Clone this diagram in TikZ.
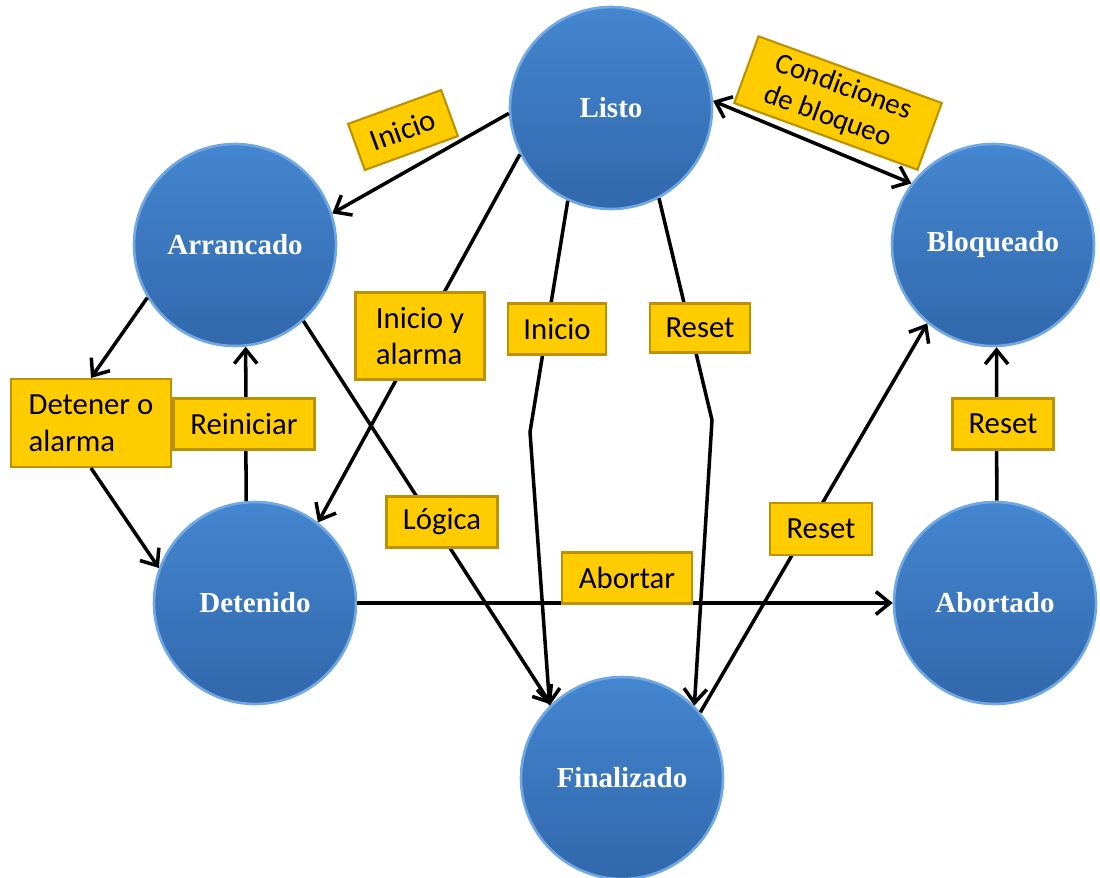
\documentclass[tikz,border=0pt]{standalone}
\usepackage{fontspec}
\usepackage{tikz}
\usetikzlibrary{arrows.meta, calc}
\newfontfamily\boxfont{Carlito}
\newfontfamily\statefont{Liberation Serif}
\definecolor{statetop}{RGB}{68,134,208}
\definecolor{statebot}{RGB}{50,104,172}
\definecolor{staterim}{RGB}{112,168,228}
\definecolor{boxfill}{RGB}{255,204,0}
\definecolor{boxrim}{RGB}{190,145,0}
\tikzset{
  barb/.tip = {Straight Barb[length = 8pt, width = 13pt]},
  state/.style = {circle, minimum size = 4.04cm, inner sep = 0, top color = statetop, bottom color = statebot, draw = staterim, line width = 1.5pt, text = white, font = \statefont\bfseries\fontsize{16.5}{19}\selectfont},
  tag/.style = {rectangle, fill = boxfill, draw = boxrim, line width = 1.2pt, inner sep = 0, align = left, font = \boxfont\fontsize{17.5}{21}\selectfont},
  link/.style = {line width = 2pt, -barb}
}
\begin{document}
\begin{tikzpicture}[x = 0.02cm, y = -0.02cm]
\useasboundingbox (0, 0) rectangle (1100, 877);
\node[state] (listo) at (611, 108) {Listo};
\node[state] (arr) at (235, 245) {Arrancado};
\node[state] (bloq) at (993, 245) {Bloqueado};
\node[state] (det) at (255, 603) {Detenido};
\node[state] (abor) at (995, 603) {Abortado};
\node[state] (fin) at (622, 778) {Finalizado};
\node[tag, minimum width = 3.2cm, minimum height = 1.76cm] (detener) at (91, 423) {Detener o\\alarma};
\coordinate (k1) at (530, 432);
\coordinate (k2) at (712, 420);
\draw[link] (listo.183) -- (arr.18);
\draw[link, barb-barb] (listo.4) -- (bloq.143);
\draw[link] (listo.207) -- (det.52);
\draw[link] (listo.245) -- (k1) -- (fin.135);
\draw[link] (listo.298) -- (k2) -- (fin.45);
\draw[link] (arr.-48) -- (fin.134);
\draw[link] (arr.211) -- (detener.north);
\draw[link] (detener.south) -- (det.160);
\draw[link] (det.95) -- (arr.276);
\draw[link] (det.0) -- (abor.180);
\draw[link] (fin.40) -- (bloq.230);
\draw[link] (abor.89) -- (bloq.272);
\node[tag, rotate = 20, minimum width = 1.98cm, minimum height = 0.98cm] (inicioA) at (403, 130) {Inicio};
\node[tag, rotate = -20, minimum width = 3.9cm, minimum height = 1.42cm, font = \boxfont\fontsize{16.5}{19}\selectfont] (cond) at (838, 103) {Condiciones\\de bloqueo};
\node[tag, minimum width = 2.58cm, minimum height = 1.74cm] (inicioY) at (420, 336) {Inicio y\\alarma};
\node[tag, minimum width = 1.96cm, minimum height = 1.02cm] (inicioB) at (557, 329) {Inicio};
\node[tag, minimum width = 2cm, minimum height = 0.98cm] (resetA) at (700, 328) {Reset};
\node[tag, minimum width = 2.82cm, minimum height = 1.02cm] (reini) at (244, 424) {Reiniciar};
\node[tag, minimum width = 2.22cm, minimum height = 1.02cm] (logica) at (442, 522) {Lógica};
\node[tag, minimum width = 2.6cm, minimum height = 1.02cm] (abortar) at (627, 578) {Abortar};
\node[tag, minimum width = 2.04cm, minimum height = 1.04cm] (resetB) at (821, 529) {Reset};
\node[tag, minimum width = 2.02cm, minimum height = 1.02cm] (resetC) at (1003, 424) {Reset};
\end{tikzpicture}
\end{document}
